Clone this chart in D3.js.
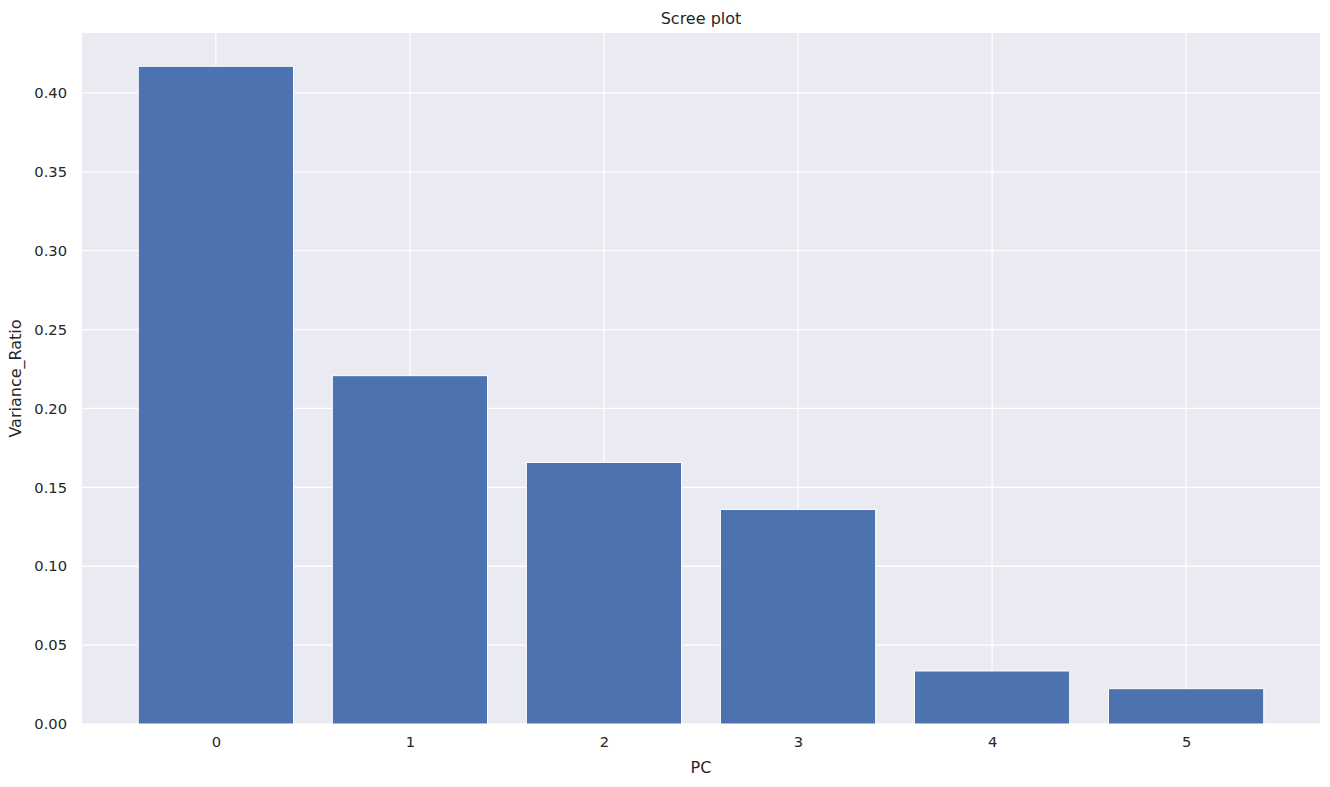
<!DOCTYPE html>
<html>
<head>
<meta charset="utf-8">
<script src="https://cdn.jsdelivr.net/npm/d3@7"></script>
<style>
  html, body { margin: 0; padding: 0; background: #ffffff; }
  svg { display: block; font-family: "DejaVu Sans", sans-serif; }
</style>
</head>
<body>
<svg id="chart" width="1330" height="787"></svg>
<script>
const categories = [0, 1, 2, 3, 4, 5];
const varianceRatio = [0.4169, 0.2208, 0.1658, 0.1360, 0.0336, 0.0224];
const yTicks = [0.00, 0.05, 0.10, 0.15, 0.20, 0.25, 0.30, 0.35, 0.40];
const xTicks = [0, 1, 2, 3, 4, 5];
const titleText = "Scree plot";
const xLabel = "PC";
const yLabel = "Variance_Ratio";

(function () {
const svg = d3.select("#chart");
const pLeft = 82, pRight = 1320, pTop = 33, pBottom = 724;

const x = d3.scaleLinear().domain([-0.69, 5.69]).range([pLeft, pRight]);
const y = d3.scaleLinear().domain([0, 0.438]).range([pBottom, pTop]);
const barW = x(0.8) - x(0);

svg.append("rect").attr("x", pLeft).attr("y", pTop)
  .attr("width", pRight - pLeft).attr("height", pBottom - pTop).attr("fill", "#eaeaf2");

// grid
const g = svg.append("g");
g.selectAll(".hg").data(yTicks).join("line")
  .attr("x1", pLeft).attr("x2", pRight)
  .attr("y1", d => y(d)).attr("y2", d => y(d))
  .attr("stroke", "#ffffff").attr("stroke-width", 1.3);
g.selectAll(".vg").data(xTicks).join("line")
  .attr("y1", pTop).attr("y2", pBottom)
  .attr("x1", d => x(d)).attr("x2", d => x(d))
  .attr("stroke", "#ffffff").attr("stroke-width", 1.3);

// bars
svg.append("g").selectAll("rect").data(categories).join("rect")
  .attr("x", (d) => x(d) - barW / 2)
  .attr("y", (d, i) => y(varianceRatio[i]))
  .attr("width", barW)
  .attr("height", (d, i) => y(0) - y(varianceRatio[i]))
  .attr("fill", "#4c72b0")
  .attr("stroke", "#ffffff").attr("stroke-width", 1);

// y axis
const yAxis = d3.axisLeft(y).tickValues(yTicks).tickFormat(d3.format(".2f")).tickSize(0).tickPadding(15);
const ya = svg.append("g").attr("transform", `translate(${pLeft},0)`).call(yAxis);
ya.select(".domain").remove();
ya.selectAll("text").attr("font-size", 14.7).attr("fill", "#262626")
  .attr("font-family", "DejaVu Sans, sans-serif");

// x axis
const xAxis = d3.axisBottom(x).tickValues(xTicks).tickFormat(d3.format("d")).tickSize(0).tickPadding(13);
const xa = svg.append("g").attr("transform", `translate(0,${pBottom})`).call(xAxis);
xa.select(".domain").remove();
xa.selectAll("text").attr("font-size", 14.7).attr("fill", "#262626")
  .attr("font-family", "DejaVu Sans, sans-serif");

// labels
svg.append("text").attr("x", (pLeft + pRight) / 2).attr("y", 24)
  .attr("text-anchor", "middle").attr("font-size", 16).attr("fill", "#262626").text(titleText);
svg.append("text").attr("x", (pLeft + pRight) / 2).attr("y", 773)
  .attr("text-anchor", "middle").attr("font-size", 16).attr("fill", "#262626").text(xLabel);
svg.append("text").attr("transform", `translate(21,${(pTop + pBottom) / 2}) rotate(-90)`)
  .attr("text-anchor", "middle").attr("font-size", 16).attr("fill", "#262626").text(yLabel);
})();
</script>
</body>
</html>
